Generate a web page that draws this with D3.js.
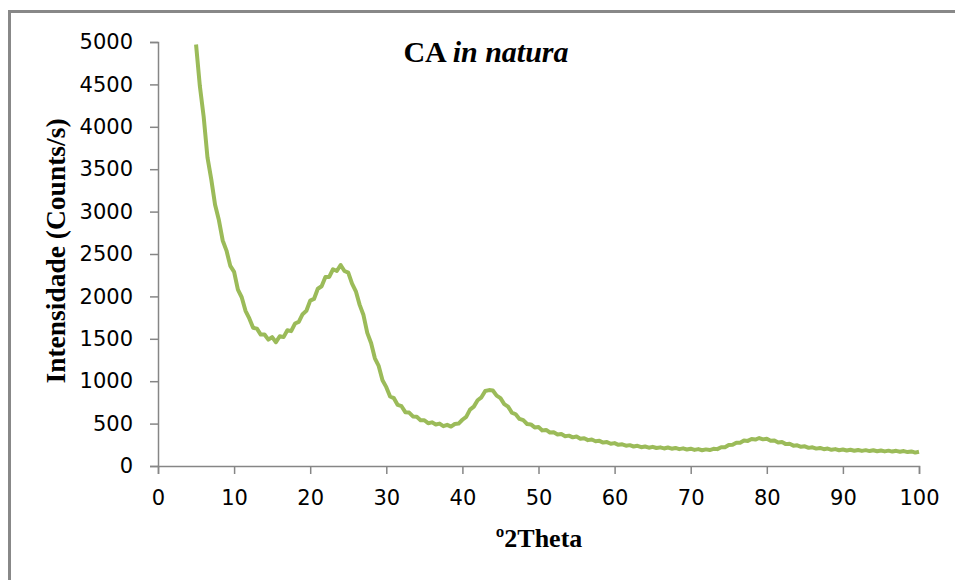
<!DOCTYPE html>
<html>
<head>
<meta charset="utf-8">
<script src="https://cdn.jsdelivr.net/npm/d3@7"></script>
<style>
  body { margin: 0; background: #fff; }
  svg { display: block; }
</style>
</head>
<body>
<div id="main"></div>
<script>
// diffractogram, one reading every 0.5 deg from 5 to 100
var angleStart = 5, angleStep = 0.5;
var intensity = [
  4970, 4480, 4120, 3640, 3380, 3080, 2900, 2660, 2540, 2360,
  2290, 2080, 1990, 1830, 1740, 1630, 1620, 1550, 1550, 1490,
  1520, 1460, 1530, 1520, 1600, 1590, 1680, 1700, 1790, 1830,
  1950, 1970, 2090, 2120, 2230, 2230, 2320, 2300, 2370, 2300,
  2280, 2150, 2060, 1900, 1780, 1570, 1450, 1270, 1180, 1010,
  930, 820, 800, 720, 705, 635, 630, 585, 580, 540,
  540, 505, 515, 490, 500, 470, 485, 465, 495, 500,
  545, 580, 665, 700, 775, 810, 885, 895, 890, 830,
  800, 730, 700, 630, 610, 555, 540, 495, 490, 455,
  460, 420, 425, 395, 398, 372, 378, 352, 358, 338,
  348, 322, 328, 305, 312, 292, 297, 276, 282, 262,
  270, 250, 256, 240, 246, 230, 238, 222, 230, 216,
  226, 212, 220, 207, 218, 204, 213, 199, 208, 195,
  204, 190, 199, 186, 196, 188, 202, 199, 222, 222,
  248, 250, 275, 274, 300, 296, 318, 312, 330, 314,
  322, 298, 302, 278, 282, 258, 262, 240, 244, 226,
  232, 214, 221, 205, 213, 198, 206, 191, 199, 186,
  194, 183, 191, 180, 189, 178, 187, 176, 185, 174,
  183, 172, 181, 170, 179, 168, 176, 164, 172, 158,
  168
];
var xTicks = [0, 10, 20, 30, 40, 50, 60, 70, 80, 90, 100];
var yTicks = [0, 500, 1000, 1500, 2000, 2500, 3000, 3500, 4000, 4500, 5000];

var width = 955, height = 580;
var margin = { left: 158, right: 36, top: 42, bottom: 114 };

var svg = d3.select('#main').append('svg')
  .attr('width', width)
  .attr('height', height);

// chart frame (right and bottom edges fall outside the picture)
svg.append('rect')
  .attr('x', 9.5).attr('y', 11.5)
  .attr('width', 1000).attr('height', 700)
  .attr('fill', 'none')
  .attr('stroke', '#888')
  .attr('stroke-width', 3);

var x = d3.scaleLinear().domain([0, 100]).range([margin.left, width - margin.right]);
var y = d3.scaleLinear().domain([0, 5000]).range([height - margin.bottom, margin.top]);

var xAxis = d3.axisBottom(x).tickValues(xTicks).tickFormat(d3.format('d')).tickSize(8).tickPadding(16);
var yAxis = d3.axisLeft(y).tickValues(yTicks).tickFormat(d3.format('d')).tickSize(8).tickPadding(17);

var gx = svg.append('g')
  .attr('transform', 'translate(0,' + y(0) + ')')
  .call(xAxis);
var gy = svg.append('g')
  .attr('transform', 'translate(' + x(0) + ',0)')
  .call(yAxis);

[gx, gy].forEach(function(g) {
  g.selectAll('path, line').attr('stroke', '#868686').attr('stroke-width', 1.5);
  g.selectAll('text')
    .attr('fill', '#000')
    .style('font-family', 'DejaVu Sans')
    .style('font-size', '21px');
});

var points = intensity.map(function(v, i) {
  return { angle: angleStart + i * angleStep, value: v };
});

var line = d3.line()
  .x(function(d) { return x(d.angle); })
  .y(function(d) { return y(d.value); });

svg.append('path')
  .datum(points)
  .attr('d', line)
  .attr('fill', 'none')
  .attr('stroke', '#9bbb59')
  .attr('stroke-width', 4)
  .attr('stroke-linejoin', 'round');

// titles
var title = svg.append('text')
  .attr('x', 486).attr('y', 62)
  .attr('text-anchor', 'middle')
  .style('font-family', 'Liberation Serif')
  .style('font-weight', 'bold')
  .style('font-size', '30px');
title.append('tspan').text('CA ');
title.append('tspan').style('font-style', 'italic').text('in natura');

svg.append('text')
  .attr('transform', 'translate(65,251) rotate(-90)')
  .attr('text-anchor', 'middle')
  .style('font-family', 'Liberation Serif')
  .style('font-weight', 'bold')
  .style('font-size', '27.5px')
  .text('Intensidade (Counts/s)');

svg.append('text')
  .attr('x', 539).attr('y', 547)
  .attr('text-anchor', 'middle')
  .style('font-family', 'Liberation Serif')
  .style('font-weight', 'bold')
  .style('font-size', '26px')
  .text('º2Theta');
</script>
</body>
</html>
